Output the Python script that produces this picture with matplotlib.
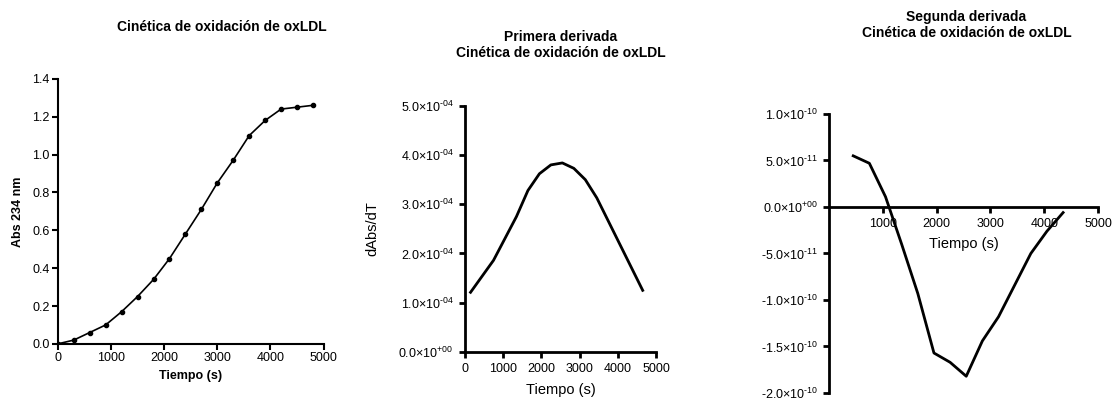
import numpy as np
import matplotlib
matplotlib.use("Agg")
import matplotlib.pyplot as plt
from matplotlib.ticker import FuncFormatter

plt.rcParams['font.family'] = ['Liberation Sans', 'DejaVu Sans']
plt.rcParams['mathtext.fontset'] = 'custom'
plt.rcParams['mathtext.rm'] = 'Liberation Sans'
plt.rcParams['mathtext.it'] = 'Liberation Sans'
plt.rcParams['mathtext.bf'] = 'Liberation Sans:bold'

# Kinetics data
t_abs = [0, 300, 600, 900, 1200, 1500, 1800, 2100, 2400, 2700, 3000,
         3300, 3600, 3900, 4200, 4500, 4800]
abs_234 = [0.0, 0.02, 0.06, 0.10, 0.17, 0.25, 0.34, 0.45, 0.58, 0.71, 0.85,
           0.97, 1.10, 1.18, 1.24, 1.25, 1.26]

# First derivative
t_d1 = [150, 750, 1350, 1650, 1950, 2250, 2550, 2850, 3150, 3450, 4050, 4650]
d1 = [1.21e-4, 1.86e-4, 2.75e-4, 3.28e-4, 3.62e-4, 3.80e-4, 3.84e-4,
      3.73e-4, 3.50e-4, 3.13e-4, 2.19e-4, 1.25e-4]

# Second derivative
t_d2 = [450, 750, 1050, 1350, 1650, 1950, 2250, 2550, 2850, 3150, 3450,
        3750, 4050, 4350]
d2 = [5.5e-11, 4.7e-11, 1.1e-11, -4.0e-11, -9.3e-11, -1.57e-10, -1.67e-10,
      -1.82e-10, -1.44e-10, -1.18e-10, -8.4e-11, -5.0e-11, -2.6e-11, -6e-12]

title = 'Cinética de oxidación de oxLDL'


def sci_fmt(v, pos):
    if abs(v) < 1e-20:
        return r'0.0×10$^{+00}$'
    exp = int(np.floor(np.log10(abs(v)) + 1e-9))
    mant = v / 10 ** exp
    sign = r'\text{-}' if exp < 0 else '+'
    return r'%.1f×10$^{%s%02d}$' % (mant, sign, abs(exp))


def style(ax, lw, pad=2):
    for s in ['top', 'right']:
        ax.spines[s].set_visible(False)
    for s in ['left', 'bottom']:
        ax.spines[s].set_linewidth(lw)
    ax.tick_params(direction='out', length=4, width=lw, labelsize=9, pad=pad)


fig = plt.figure(figsize=(11.12, 3.98), dpi=100)

# Panel 1
ax1 = fig.add_axes([0.052, 0.136, 0.239, 0.666])
ax1.plot(t_abs, abs_234, color='black', lw=1.2, marker='o', ms=3)
ax1.set_xlim(0, 5000)
ax1.set_ylim(0, 1.4)
ax1.set_xticks([0, 1000, 2000, 3000, 4000, 5000])
ax1.set_yticks(np.arange(0, 1.41, 0.2))
ax1.yaxis.set_major_formatter(FuncFormatter(lambda v, p: '%.1f' % v))
style(ax1, 1.5)
ax1.set_xlabel('Tiempo (s)', fontsize=9, fontweight='bold', labelpad=4)
ax1.set_ylabel('Abs 234 nm', fontsize=9, fontweight='bold', labelpad=6)

# Panel 2
ax2 = fig.add_axes([0.418, 0.116, 0.172, 0.618])
ax2.plot(t_d1, d1, color='black', lw=2)
ax2.set_xlim(0, 5000)
ax2.set_ylim(0, 5e-4)
ax2.set_xticks([0, 1000, 2000, 3000, 4000, 5000])
ax2.set_yticks(np.arange(0, 5.01e-4, 1e-4))
ax2.yaxis.set_major_formatter(FuncFormatter(sci_fmt))
style(ax2, 2, pad=4)
ax2.set_xlabel('Tiempo (s)', fontsize=10.5, labelpad=6)
ax2.set_ylabel('dAbs/dT', fontsize=10.5, labelpad=14)

# Panel 3
ax3 = fig.add_axes([0.7455, 0.0126, 0.242, 0.701])
ax3.plot(t_d2, d2, color='black', lw=2)
ax3.set_xlim(0, 5000)
ax3.set_ylim(-2e-10, 1e-10)
ax3.spines['bottom'].set_position(('data', 0))
ax3.set_xticks([1000, 2000, 3000, 4000, 5000])
ax3.set_yticks(np.arange(-2e-10, 1.01e-10, 5e-11))
ax3.yaxis.set_major_formatter(FuncFormatter(sci_fmt))
style(ax3, 2, pad=4)
ax3.set_xlabel('Tiempo (s)', fontsize=10.5, labelpad=2)
ax3.xaxis.set_label_coords(0.5, 0.56)

fig.text(0.1996, 0.932, title, ha='center', va='center', fontsize=10,
         fontweight='bold')
fig.text(0.5045, 0.887, 'Primera derivada\n' + title, ha='center',
         va='center', fontsize=10, fontweight='bold', linespacing=1.15)
fig.text(0.869, 0.937, 'Segunda derivada\n' + title, ha='center',
         va='center', fontsize=10, fontweight='bold', linespacing=1.15)

fig.savefig('out.png', dpi=100)
